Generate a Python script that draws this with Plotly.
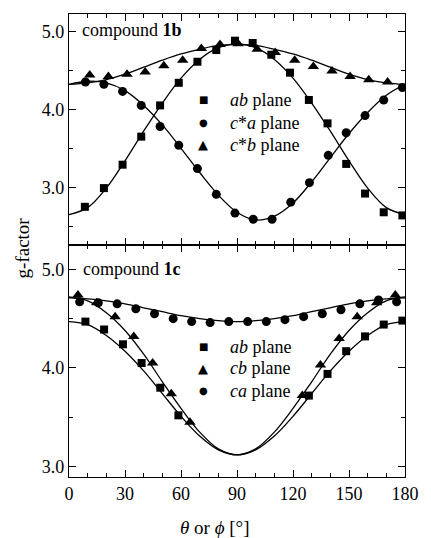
import plotly.graph_objects as go
from plotly.subplots import make_subplots

# ---------------- data: compound 1b (upper panel) ----------------
ab1b_theta = [8.5, 18.7, 28.7, 38.7, 48.8, 58.8, 68.8, 78.9, 88.9, 98.4, 108.4, 118.4, 128.5, 138.5, 148.5, 158.6, 168.6, 178.6]
ab1b_g = [2.75, 2.99, 3.29, 3.65, 4.05, 4.34, 4.61, 4.76, 4.88, 4.85, 4.70, 4.47, 4.12, 3.82, 3.30, 2.92, 2.68, 2.64]

ca1b_theta = [8.8, 18.7, 28.7, 38.7, 48.8, 58.8, 68.8, 78.9, 88.9, 98.7, 108.8, 118.8, 128.8, 138.9, 148.5, 158.6, 168.6, 178.6]
ca1b_g = [4.35, 4.32, 4.23, 4.05, 3.78, 3.54, 3.24, 2.91, 2.67, 2.59, 2.59, 2.81, 3.06, 3.41, 3.70, 3.92, 4.12, 4.28]

cb1b_theta = [11.1, 21.1, 31.1, 40.8, 50.8, 60.9, 70.9, 80.9, 90.6, 100.8, 110.5, 120.9, 130.9, 140.9, 150.6, 160.6, 170.7]
cb1b_g = [4.44, 4.42, 4.45, 4.48, 4.56, 4.63, 4.78, 4.83, 4.84, 4.77, 4.73, 4.63, 4.55, 4.49, 4.42, 4.38, 4.35]

# ---------------- data: compound 1c (lower panel) ----------------
ab1c_theta = [8.8, 18.8, 28.9, 38.9, 48.9, 58.6, 128.5, 138.5, 148.5, 158.6, 168.6, 178.6]
ab1c_g = [4.47, 4.39, 4.24, 4.05, 3.80, 3.52, 3.72, 3.94, 4.17, 4.32, 4.44, 4.48]

cb1c_theta = [4.8, 14.8, 24.7, 34.7, 44.8, 54.8, 64.8, 125.0, 134.7, 144.7, 154.4, 164.8, 174.8]
cb1c_g = [4.74, 4.66, 4.52, 4.32, 4.05, 3.74, 3.45, 3.72, 4.03, 4.30, 4.52, 4.66, 4.74]

ca1c_theta = [5.7, 15.7, 25.8, 35.8, 45.8, 55.8, 65.7, 75.6, 85.6, 95.7, 105.7, 115.7, 125.7, 135.7, 145.7, 155.8, 165.8, 175.5]
ca1c_g = [4.67, 4.66, 4.65, 4.60, 4.55, 4.50, 4.47, 4.46, 4.47, 4.47, 4.47, 4.49, 4.52, 4.55, 4.59, 4.65, 4.69, 4.67]

# ---------------- fitted curves (read at 10 degree steps) ----------------
fit_theta = [0, 10, 20, 30, 40, 50, 60, 70, 80, 90, 100, 110, 120, 130, 140, 150, 160, 170, 180]
fit_ab1b = [2.65, 2.74, 2.99, 3.34, 3.72, 4.08, 4.40, 4.64, 4.79, 4.84, 4.79, 4.64, 4.40, 4.08, 3.72, 3.34, 2.99, 2.74, 2.65]
fit_ca1b = [4.32, 4.36, 4.34, 4.24, 4.05, 3.80, 3.50, 3.19, 2.90, 2.68, 2.58, 2.63, 2.80, 3.07, 3.38, 3.69, 3.96, 4.18, 4.32]
fit_cb1b = [4.32, 4.34, 4.38, 4.45, 4.54, 4.63, 4.71, 4.77, 4.82, 4.83, 4.82, 4.77, 4.71, 4.63, 4.54, 4.45, 4.38, 4.34, 4.32]

fit_ab1c = [4.47, 4.44, 4.33, 4.17, 3.97, 3.74, 3.51, 3.31, 3.17, 3.12, 3.17, 3.31, 3.51, 3.74, 3.97, 4.17, 4.33, 4.44, 4.47]
fit_cb1c = [4.72, 4.68, 4.56, 4.38, 4.14, 3.86, 3.59, 3.35, 3.18, 3.12, 3.18, 3.35, 3.59, 3.86, 4.14, 4.38, 4.56, 4.68, 4.72]
fit_ca1c = [4.71, 4.70, 4.68, 4.65, 4.61, 4.57, 4.53, 4.50, 4.48, 4.47, 4.48, 4.50, 4.53, 4.57, 4.61, 4.65, 4.68, 4.70, 4.71]

x_ticks = [0, 30, 60, 90, 120, 150, 180]

# legend labels and key glyphs
legend_1b = ["<i>ab</i> plane", "<i>c</i>*<i>a</i> plane", "<i>c</i>*<i>b</i> plane"]
legend_1b_keys = ["■", "●", "▲"]
legend_1c = ["<i>ab</i> plane", "<i>cb</i> plane", "<i>ca</i> plane"]
legend_1c_keys = ["■", "▲", "●"]

FONT = "Liberation Serif"
BLACK = "black"

fig = make_subplots(rows=2, cols=1, shared_xaxes=True, vertical_spacing=0)

def add_fit(y, row):
    fig.add_trace(go.Scatter(x=fit_theta, y=y, mode="lines",
                             line=dict(color=BLACK, width=1.3, shape="spline", smoothing=1.0),
                             showlegend=False, hoverinfo="skip"), row=row, col=1)

def add_pts(x, y, symbol, size, name, row):
    fig.add_trace(go.Scatter(x=x, y=y, mode="markers", name=name, showlegend=False,
                             marker=dict(symbol=symbol, size=size, color=BLACK, line=dict(width=0))),
                  row=row, col=1)

# upper panel
add_fit(fit_ab1b, 1)
add_fit(fit_ca1b, 1)
add_fit(fit_cb1b, 1)
add_pts(ab1b_theta, ab1b_g, "square", 8, legend_1b[0], 1)
add_pts(ca1b_theta, ca1b_g, "circle", 9, legend_1b[1], 1)
add_pts(cb1b_theta, cb1b_g, "triangle-up", 10, legend_1b[2], 1)

# lower panel
add_fit(fit_ab1c, 2)
add_fit(fit_cb1c, 2)
add_fit(fit_ca1c, 2)
add_pts(ab1c_theta, ab1c_g, "square", 8, legend_1c[0], 2)
add_pts(cb1c_theta, cb1c_g, "triangle-up", 10, legend_1c[1], 2)
add_pts(ca1c_theta, ca1c_g, "circle", 9, legend_1c[2], 2)

xcommon = dict(range=[0, 180], tickvals=x_ticks, ticks="inside", ticklen=7, tickwidth=1.2,
               tickcolor=BLACK, showline=True, linecolor=BLACK, linewidth=1.3, mirror="ticks",
               showgrid=False, zeroline=False,
               minor=dict(dtick=10, tick0=0, ticks="inside", ticklen=4, tickwidth=1, tickcolor=BLACK, showgrid=False),
               tickfont=dict(family=FONT, size=18, color=BLACK))
ycommon = dict(dtick=1, tick0=0, tickformat=".1f", ticks="inside", ticklen=7, tickwidth=1.2,
               tickcolor=BLACK, showline=True, linecolor=BLACK, linewidth=1.3, mirror="ticks",
               showgrid=False, zeroline=False,
               minor=dict(dtick=0.5, tick0=0, ticks="inside", ticklen=4, tickwidth=1, tickcolor=BLACK, showgrid=False),
               tickfont=dict(family=FONT, size=18, color=BLACK))

fig.update_xaxes(**xcommon)
fig.update_yaxes(**ycommon)
fig.update_xaxes(showticklabels=False, row=1, col=1)
fig.update_yaxes(range=[2.26, 5.222], domain=[0.501, 1.0], row=1, col=1)
fig.update_yaxes(range=[2.895, 5.246], domain=[0.0, 0.501], row=2, col=1)

annotations = [
    dict(text="compound <b>1b</b>", xref="x domain", yref="y domain", x=0.033, y=0.93,
         xanchor="left", yanchor="middle", showarrow=False, font=dict(family=FONT, size=18, color=BLACK)),
    dict(text="compound <b>1c</b>", xref="x2 domain", yref="y2 domain", x=0.036, y=0.897,
         xanchor="left", yanchor="middle", showarrow=False, font=dict(family=FONT, size=18, color=BLACK)),
    dict(text="<i>θ</i> or <i>ϕ</i> [°]", xref="paper", yref="paper", x=0.435, y=-0.108,
         xanchor="center", yanchor="middle", showarrow=False, font=dict(family=FONT, size=19, color=BLACK)),
    dict(text="g-factor", xref="paper", yref="paper", x=-0.138, y=0.495, textangle=-90,
         xanchor="center", yanchor="middle", showarrow=False, font=dict(family=FONT, size=19, color=BLACK)),
]

# legend rows (paper coordinates)
key_x = 0.399
text_x = 0.4726
rows_1b = [0.8143, 0.7646, 0.7171]
rows_1c = [0.2808, 0.2354, 0.1868]
key_sizes = {"■": 10, "●": 10, "▲": 13}
for labels, keys, rows in [(legend_1b, legend_1b_keys, rows_1b), (legend_1c, legend_1c_keys, rows_1c)]:
    for lab, key, yy in zip(labels, keys, rows):
        annotations.append(dict(text=key, xref="paper", yref="paper", x=key_x, y=yy,
                                xanchor="center", yanchor="middle", showarrow=False,
                                font=dict(family="DejaVu Sans", size=key_sizes[key], color=BLACK)))
        annotations.append(dict(text=lab, xref="paper", yref="paper", x=text_x, y=yy,
                                xanchor="left", yanchor="middle", showarrow=False,
                                font=dict(family=FONT, size=18, color=BLACK)))

fig.update_layout(
    width=431, height=538,
    margin=dict(l=69, r=15, t=14, b=61),
    paper_bgcolor="white", plot_bgcolor="white",
    font=dict(family=FONT, size=18, color=BLACK),
    showlegend=False,
    annotations=annotations,
)

fig.write_html("out.html", config={"displayModeBar": False},
               post_script="document.body.style.margin='0px';")
